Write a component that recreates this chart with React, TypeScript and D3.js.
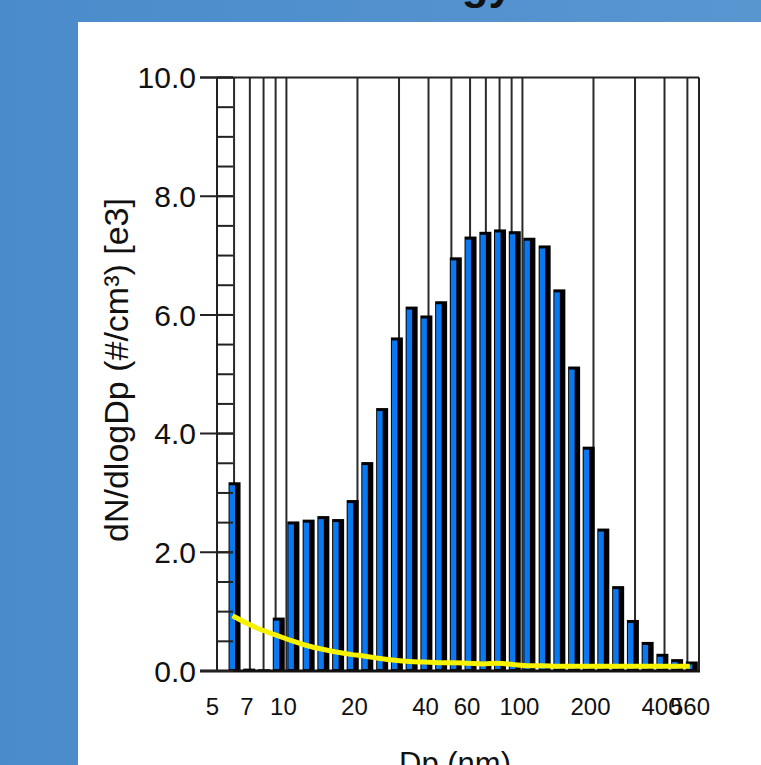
import React from 'react';
import * as d3 from 'd3';

const width = 761;
const height = 765;

// channel midpoints (nm)
const diameters = [5.97, 6.89, 7.96, 9.19, 10.6, 12.3, 14.2, 16.4, 18.9, 21.8, 25.2, 29.1, 33.6, 38.8, 44.8, 51.7,
  59.7, 69.0, 79.6, 91.9, 106, 123, 142, 164, 189, 218, 252, 291, 336, 388, 448, 517];
// dN/dlogDp [e3] for each channel (blue bars)
const counts = [3.18, 0.04, 0.03, 0.9, 2.52, 2.55, 2.61, 2.56, 2.88, 3.52, 4.43, 5.62, 6.14, 5.99, 6.23, 6.97,
  7.32, 7.4, 7.44, 7.41, 7.3, 7.17, 6.43, 5.13, 3.78, 2.4, 1.43, 0.86, 0.49, 0.29, 0.2, 0.16];
// yellow line
const yellowValues = [0.93, 0.8, 0.69, 0.6, 0.51, 0.43, 0.37, 0.32, 0.28, 0.25, 0.21, 0.18, 0.16, 0.15, 0.14, 0.14,
  0.13, 0.12, 0.13, 0.11, 0.09, 0.09, 0.08, 0.08, 0.08, 0.08, 0.08, 0.08, 0.08, 0.08, 0.08, 0.08];

const gridValues = [6, 7, 8, 9, 10, 20, 30, 40, 50, 60, 70, 80, 90, 100, 200, 300, 400, 500];
const xTickLabels = [5, 7, 10, 20, 40, 60, 100, 200, 400, 560];
const yMajorTicks = [0, 2, 4, 6, 8, 10];

const x = d3.scaleLog().domain([5.08, 560]).range([217, 699]);
const y = d3.scaleLinear().domain([0, 10]).range([671, 77.5]);

const font = '"Liberation Sans", Arial, sans-serif';

export default function App() {
  const yMinor = y.ticks(20);
  const line = d3.line<number>()
    .x((d, i) => x(diameters[i]) - 1)
    .y(d => y(d))
    .curve(d3.curveMonotoneX);

  return (
    <div style={{ position: 'absolute', left: 0, top: 0 }}>
      <svg width={width} height={height} style={{ display: 'block' }}>
        <defs>
          <linearGradient id='bg' x1='0' x2='1' y1='0' y2='0'>
            <stop offset='0' stopColor='#4a8bcb' />
            <stop offset='1' stopColor='#5896d0' />
          </linearGradient>
        </defs>
        <rect width={width} height={height} fill='url(#bg)' />
        <text x={513} y={-1} textAnchor='end' fontFamily={font} fontWeight='bold' fontSize={44} fill='#111'>
          Methodology
        </text>
        <rect x={78} y={22} width={width - 78} height={height - 22} fill='#fff' />

        {/* vertical grid */}
        {gridValues.map(v => (
          <line key={v} x1={x(v)} x2={x(v)} y1={y(10)} y2={y(0)} stroke='#2a2a2a' strokeWidth={2} />
        ))}

        {/* bars: black shadow then blue face */}
        {counts.map((v, i) => {
          const c = x(diameters[i]);
          const top = y(v);
          return (
            <g key={i}>
              <rect x={c - 5} y={top} width={12} height={y(0) - top} fill='#000' />
              <rect x={c - 4} y={Math.min(top + 3, y(0))} width={5.5} height={Math.max(0, y(0) - top - 5)} fill='#0a78ee' />
            </g>
          );
        })}

        <path d={line(yellowValues) || ''} fill='none' stroke='#f7f200' strokeWidth={5} />

        {/* frame */}
        <line x1={200} x2={699} y1={y(10)} y2={y(10)} stroke='#222' strokeWidth={2} />
        <line x1={200} x2={700} y1={y(0)} y2={y(0)} stroke='#111' strokeWidth={3} />
        <line x1={217} x2={217} y1={y(10)} y2={y(0)} stroke='#222' strokeWidth={2} />
        <line x1={699} x2={699} y1={y(10)} y2={y(0)} stroke='#222' strokeWidth={2} />

        {/* y ticks */}
        {yMinor.map(v => (
          <line key={'m' + v} x1={217} x2={233} y1={y(v)} y2={y(v)} stroke='#222' strokeWidth={2} />
        ))}
        {yMajorTicks.map(v => (
          <g key={'M' + v}>
            <line x1={200} x2={233} y1={y(v)} y2={y(v)} stroke='#222' strokeWidth={2} />
            <text x={196} y={y(v)} dy='0.36em' textAnchor='end' fontFamily={font} fontSize={30} fill='#111'>
              {d3.format('.1f')(v)}
            </text>
          </g>
        ))}

        {/* x tick labels */}
        {xTickLabels.map((v, i) => {
          const last = i === xTickLabels.length - 1;
          return (
            <text key={v} x={last ? x(v) + 11 : x(v) - 3} y={715} textAnchor={last ? 'end' : 'middle'}
              fontFamily={font} fontSize={24} fill='#111'>
              {v}
            </text>
          );
        })}

        <text x={455} y={774} textAnchor='middle' fontFamily={font} fontSize={31} fill='#111'>Dp (nm)</text>
        <text transform={`translate(128, 370) rotate(-90)`} textAnchor='middle' fontFamily={font} fontSize={34} fill='#111'>
          dN/dlogDp (#/cm³) [e3]
        </text>
      </svg>
    </div>
  );
}
